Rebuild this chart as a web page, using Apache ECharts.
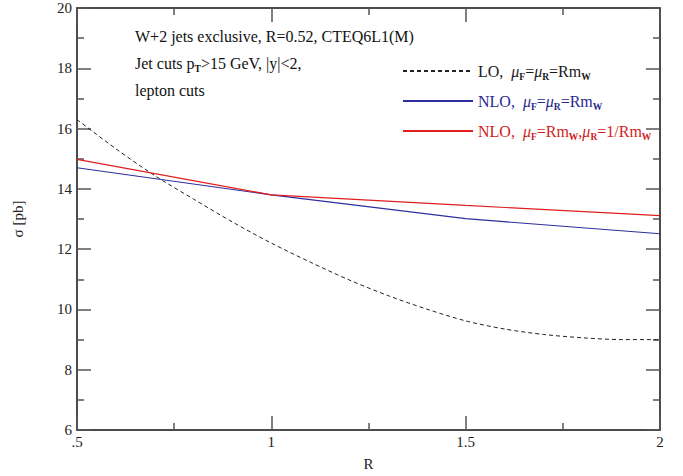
<!DOCTYPE html>
<html>
<head>
<meta charset="utf-8">
<script src="https://cdn.jsdelivr.net/npm/echarts@6/dist/echarts.min.js"></script>
<style>
  html, body { margin: 0; padding: 0; background: #fff; }
  #chart { width: 683px; height: 476px; }
</style>
</head>
<body>
<div id="chart"></div>
<script>
// values
const rLO = [0.5, 0.6, 0.7, 0.8, 0.9, 1.0, 1.1, 1.2, 1.3, 1.4, 1.5, 1.6, 1.7, 1.8, 1.9, 2.0];
const sigmaLO = [16.30, 15.33, 14.44, 13.66, 12.90, 12.20, 11.57, 10.98, 10.46, 10.01, 9.62, 9.35, 9.17, 9.06, 9.00, 9.00];

const rNLO = [0.5, 1.0, 1.5, 2.0];
const sigmaNLO = [14.70, 13.80, 13.01, 12.51];
const sigmaNLOalt = [14.98, 13.80, 13.45, 13.11];

const xTicks = { 0.5: '.5', 1: '1', 1.5: '1.5', 2: '2' };

const SERIF = '"Liberation Serif", "DejaVu Serif", serif';

const chart = echarts.init(document.getElementById('chart'), null, { renderer: 'svg' });

const pair = (xs, ys) => xs.map((x, i) => [x, ys[i]]);

const sub = { fontFamily: SERIF, fontSize: 9.5, fontWeight: 'bold', padding: [12, 0, 0, 0] };
const rich = {
  mu: { fontFamily: SERIF, fontStyle: 'italic', fontSize: 16 },
  sub: sub,
};

const legendText = {
  LO: 'LO,  {mu|μ}{sub|F}={mu|μ}{sub|R}=Rm{sub|W}',
  NLO: 'NLO,  {mu|μ}{sub|F}={mu|μ}{sub|R}=Rm{sub|W}',
  NLO2: 'NLO,  {mu|μ}{sub|F}=Rm{sub|W},{mu|μ}{sub|R}=1/Rm{sub|W}',
};

function tick() { return { show: true, inside: true, length: 14, lineStyle: { color: '#555', width: 1.5 } }; }
function minor() { return { show: true, splitNumber: 2, length: 7, lineStyle: { color: '#555', width: 1.5 } }; }
function frame() { return { show: true, lineStyle: { color: '#111', width: 1.5 } }; }

const option = {
  animation: false,
  grid: { left: 77, right: 23, top: 8, bottom: 42 },
  xAxis: [
    {
      type: 'value', min: 0.5, max: 2, interval: 0.5,
      axisLine: frame(), axisTick: tick(), minorTick: minor(),
      splitLine: { show: false },
      axisLabel: {
        margin: 4, color: '#222', fontFamily: SERIF, fontSize: 15,
        formatter: (v) => xTicks[v] || String(v),
      },
      name: 'R', nameLocation: 'middle', nameGap: 26,
      nameTextStyle: { color: '#222', fontFamily: SERIF, fontSize: 15 },
    },
    {
      type: 'value', position: 'top', min: 0.5, max: 2, interval: 0.5,
      axisLine: frame(), axisTick: tick(), minorTick: minor(),
      splitLine: { show: false }, axisLabel: { show: false },
    },
  ],
  yAxis: [
    {
      type: 'value', min: 6, max: 20, interval: 2,
      axisLine: frame(), axisTick: tick(), minorTick: minor(),
      splitLine: { show: false },
      axisLabel: { margin: 5, color: '#222', fontFamily: SERIF, fontSize: 15 },
      name: 'σ [pb]', nameLocation: 'middle', nameGap: 52, nameRotate: 90,
      nameTextStyle: { color: '#222', fontFamily: SERIF, fontSize: 15 },
    },
    {
      type: 'value', position: 'right', min: 6, max: 20, interval: 2,
      axisLine: frame(), axisTick: tick(), minorTick: minor(),
      splitLine: { show: false }, axisLabel: { show: false },
    },
  ],
  legend: {
    orient: 'vertical',
    left: 397, top: 58,
    itemWidth: 70, itemHeight: 14, itemGap: 11,
    selectedMode: false,
    itemStyle: { opacity: 0 },
    formatter: (name) => legendText[name],
    textStyle: { fontFamily: SERIF, fontSize: 16, rich: rich, padding: [0, 0, 0, 0] },
    data: [
      { name: 'LO', textStyle: { color: '#1a1a1a' } },
      { name: 'NLO', textStyle: { color: '#2a2a8c' } },
      { name: 'NLO2', textStyle: { color: '#d01c1c' } },
    ],
  },
  graphic: [
    {
      type: 'text', left: 135, top: 28,
      style: { text: 'W+2 jets exclusive, R=0.52, CTEQ6L1(M)', fill: '#111', font: '16px ' + SERIF },
    },
    {
      type: 'text', left: 135, top: 55,
      style: {
        text: 'Jet cuts p{sub|T}>15 GeV, |y|<2,', fill: '#111', font: '16px ' + SERIF,
        rich: { sub: sub },
      },
    },
    {
      type: 'text', left: 135, top: 82,
      style: { text: 'lepton cuts', fill: '#111', font: '16px ' + SERIF },
    },
  ],
  series: [
    {
      name: 'LO', type: 'line', smooth: 0.3, symbol: 'none',
      data: pair(rLO, sigmaLO),
      lineStyle: { color: '#222', width: 1, type: [4, 3] },
      itemStyle: { color: '#222' },
    },
    {
      name: 'NLO', type: 'line', symbol: 'none',
      data: pair(rNLO, sigmaNLO),
      lineStyle: { color: '#2e2e9e', width: 1.2 },
      itemStyle: { color: '#2e2e9e' },
    },
    {
      name: 'NLO2', type: 'line', symbol: 'none',
      data: pair(rNLO, sigmaNLOalt),
      lineStyle: { color: '#e01e1e', width: 1.2 },
      itemStyle: { color: '#e01e1e' },
    },
  ],
};

chart.setOption(option);
</script>
</body>
</html>
